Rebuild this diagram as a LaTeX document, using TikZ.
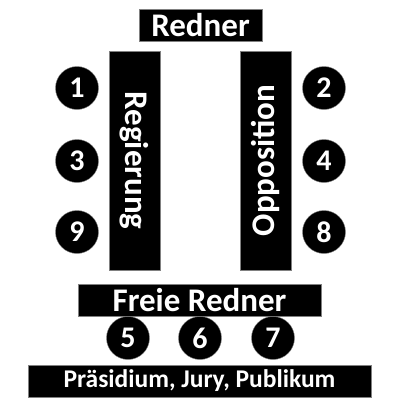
\documentclass[tikz,border=0pt]{standalone}
\usepackage{fontspec}
\setmainfont{Carlito}

\tikzset{
    box/.style={fill=black, draw=gray, text=white, font=\bfseries\fontsize{33}{38}\selectfont, inner sep=0pt},
    seat/.style={circle, fill=black, draw=gray, text=white, minimum size=43pt, inner sep=0pt, font=\bfseries\fontsize{30}{34}\selectfont}
}

\begin{document}
\begin{tikzpicture}[x=1pt, y=-1pt]

    \useasboundingbox (0, 0) rectangle (400, 400);

    % Speaker and the two benches
    \node[box, minimum width=123pt, minimum height=32pt] (redner) at (200.5, 25) {Redner};
    \node[box, rotate=-90, minimum width=219pt, minimum height=51pt] (regierung) at (134.5, 160.5) {Regierung};
    \node[box, rotate=90, minimum width=219pt, minimum height=51pt] (opposition) at (265.5, 160.5) {Opposition};

    % Government seats
    \node[seat] (s1) at (77, 88) {1};
    \node[seat] (s3) at (77, 161) {3};
    \node[seat] (s9) at (77, 232) {9};

    % Opposition seats
    \node[seat] (s2) at (324, 88) {2};
    \node[seat] (s4) at (324, 161) {4};
    \node[seat] (s8) at (324, 232) {8};

    % Free speakers
    \node[box, minimum width=243pt, minimum height=32pt] (freie) at (199.5, 300) {Freie Redner};
    \node[seat] (s5) at (128, 338) {5};
    \node[seat] (s6) at (200, 338) {6};
    \node[seat] (s7) at (273, 338) {7};

    \node[box, minimum width=343pt, minimum height=32pt, font=\bfseries\fontsize{25.5}{30}\selectfont] (praesidium) at (199.5, 381) {Präsidium, Jury, Publikum};

\end{tikzpicture}
\end{document}
